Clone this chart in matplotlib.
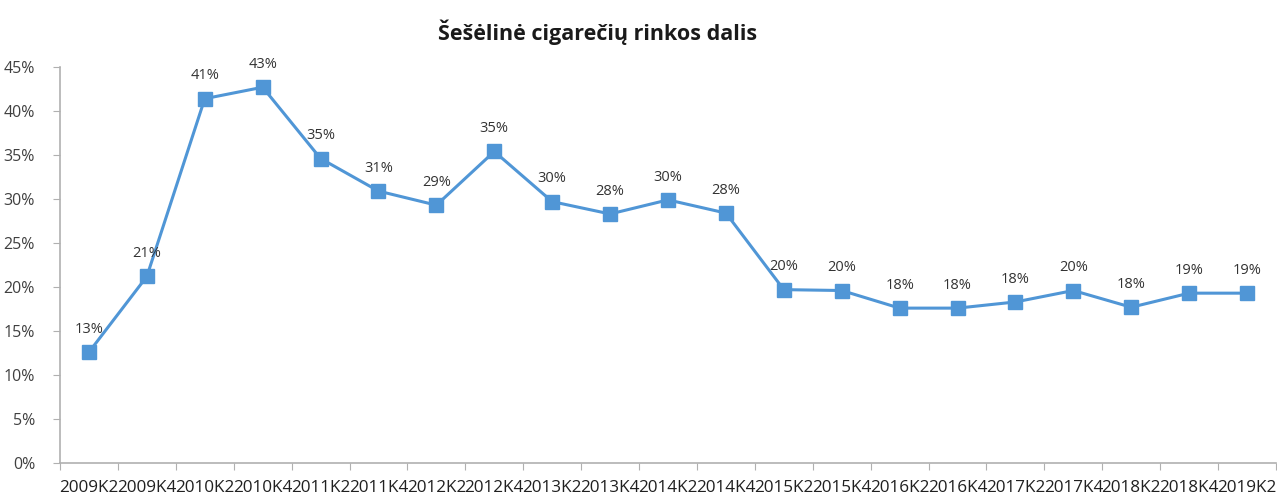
import matplotlib.pyplot as plt
import numpy as np

plt.rcParams['font.family'] = ['Open Sans', 'DejaVu Sans']

# Ketvirčiai ir šešėlinės rinkos dalis (%)
ketvirciai = ['2009K2', '2009K4', '2010K2', '2010K4', '2011K2', '2011K4', '2012K2',
              '2012K4', '2013K2', '2013K4', '2014K2', '2014K4', '2015K2', '2015K4',
              '2016K2', '2016K4', '2017K2', '2017K4', '2018K2', '2018K4', '2019K2']
dalis = [12.6, 21.2, 41.4, 42.7, 34.6, 30.9, 29.3, 35.4, 29.7, 28.3, 29.9,
         28.4, 19.7, 19.6, 17.6, 17.6, 18.3, 19.6, 17.7, 19.3, 19.3]
y_ticks = [0, 5, 10, 15, 20, 25, 30, 35, 40, 45]

W, H = 1277, 496
fig = plt.figure(figsize=(W / 100, H / 100), dpi=100)
ax = fig.add_axes([60 / W, 33 / H, 1216 / W, 396 / H])

x = np.arange(len(ketvirciai))
spalva = '#5096d6'
ax.plot(x, dalis, color=spalva, linewidth=2.2, marker='s', markersize=9.5,
        markerfacecolor=spalva, markeredgecolor=spalva)

for xi, v in zip(x, dalis):
    ax.annotate(f'{v:.0f}%', (xi, v), xytext=(0, 11), textcoords='offset points',
                ha='center', va='bottom', fontsize=10.5, color='#333333')

ax.set_xlim(-0.5, len(ketvirciai) - 0.5)
ax.set_ylim(0, 45)
ax.set_yticks(y_ticks)
ax.set_yticklabels([f'{t}%' for t in y_ticks], fontsize=11.5, color='#404040')

# kategorijų ribos - ašies brūkšniai
ax.set_xticks(np.arange(-0.5, len(ketvirciai) + 0.5, 1))
ax.set_xticklabels([])
ax.set_xticks(x, minor=True)
ax.set_xticklabels(ketvirciai, minor=True, fontsize=12.3, color='#202020')
ax.tick_params(axis='x', which='minor', length=0, pad=12)
ax.tick_params(axis='x', which='major', length=5, color='#b0b0b0', direction='out')
ax.tick_params(axis='y', length=5, color='#b0b0b0', pad=13)

for s in ['top', 'right']:
    ax.spines[s].set_visible(False)
for s in ['left', 'bottom']:
    ax.spines[s].set_color('#b0b0b0')
    ax.spines[s].set_linewidth(1.2)

fig.text(598 / W, 1 - 32 / H, 'Šešėlinė cigarečių rinkos dalis', ha='center', va='center',
         fontsize=15.5, fontweight='bold', color='#1a1a1a')

fig.savefig('out.png', dpi=100)
